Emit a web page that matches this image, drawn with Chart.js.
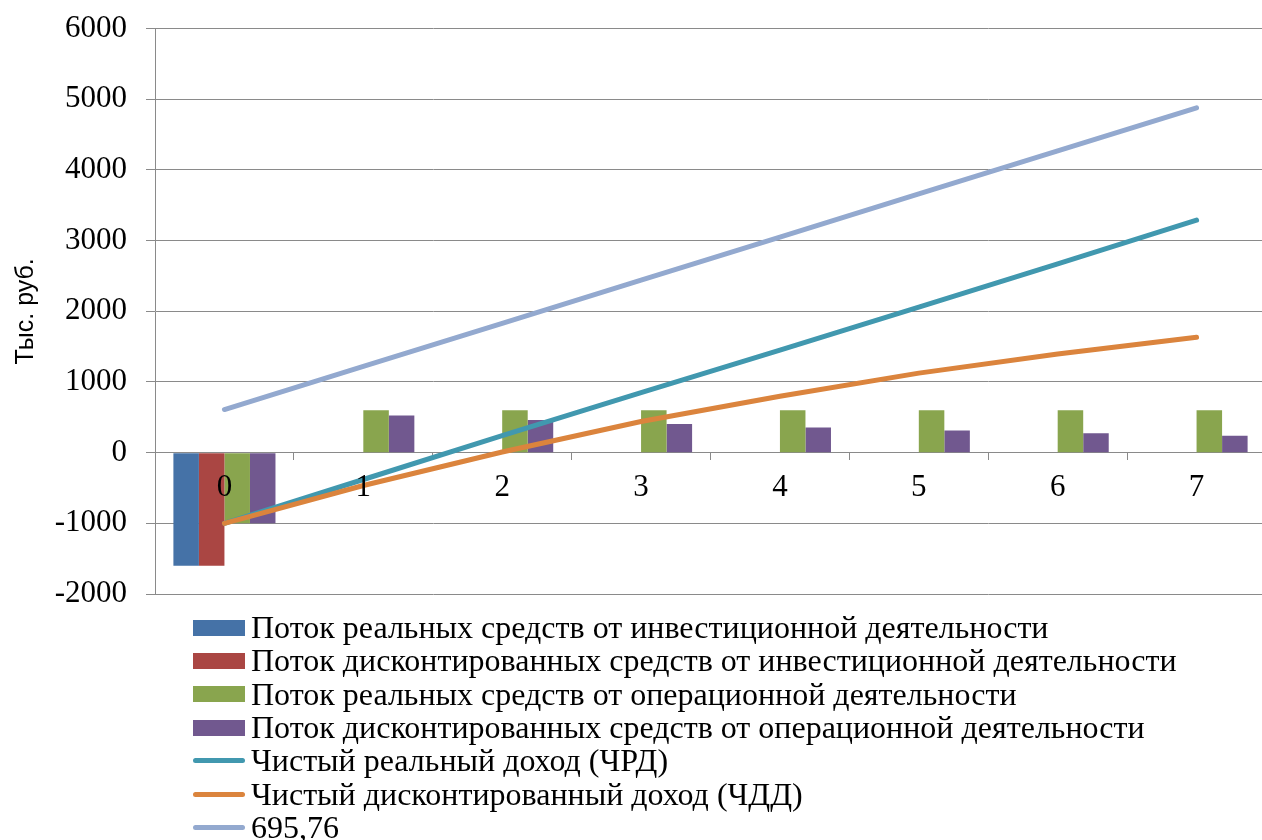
<!DOCTYPE html>
<html lang="ru">
<head>
<meta charset="utf-8">
<title>Денежные потоки проекта</title>
<script src="https://cdn.jsdelivr.net/npm/chart.js@4.4.1/dist/chart.umd.min.js"></script>
<style>
  html, body { margin: 0; padding: 0; background: #fff; }
  #wrap { position: relative; width: 1262px; height: 840px; overflow: hidden; }
  #chart { position: absolute; left: 0; top: 0; }
  #legend {
    position: absolute; left: 193px; top: 611px; margin: 0; padding: 0;
    font-family: 'Liberation Serif', 'Times New Roman', serif; font-size: 32px; color: #000;
  }
  .item { display: flex; align-items: center; height: 33.3px; white-space: nowrap; }
  .mark { width: 52px; flex: none; margin-right: 6px; }
  .mark.bar { height: 16px; }
  .mark.line { height: 5px; border-radius: 3px; }
</style>
</head>
<body>
<div id="wrap">
  <canvas id="chart" width="1266" height="840"></canvas>
  <div id="legend"></div>
</div>
<script>
// Periods (years)
const years = ['0', '1', '2', '3', '4', '5', '6', '7'];

// Cash flows, thousand roubles
const investReal = [-1600, 0, 0, 0, 0, 0, 0, 0];
const investDisc = [-1600, 0, 0, 0, 0, 0, 0, 0];
const operReal   = [-1000, 600, 600, 600, 600, 600, 600, 600];
const operDisc   = [-1000, 526, 462, 405, 355, 312, 273, 240];

// Cumulative income lines
const netReal  = [-1000, -380, 240, 850, 1450, 2060, 2670, 3290];
const netDisc  = [-1000, -465, 10, 440, 798, 1125, 1395, 1632];
const line695  = [610, 1220, 1830, 2440, 3050, 3660, 4270, 4880];

// Value axis
const yMin = -2000;
const yMax = 6000;
const yStep = 1000;

const gridColor = '#8a8a8a';
const serif = "'Liberation Serif', 'Times New Roman', serif";

function barSet(label, data, color) {
  return { type: 'bar', label, data, backgroundColor: color, borderWidth: 0,
           barPercentage: 1, categoryPercentage: 0.735, order: 3 };
}
function lineSet(label, data, color, order) {
  return { type: 'line', label, data, borderColor: color, backgroundColor: color,
           borderWidth: 5, pointRadius: 0, pointHoverRadius: 0, fill: false, tension: 0,
           borderCapStyle: 'round', borderJoinStyle: 'round', order };
}

// Builds the legend as a single column of HTML rows under the chart
const htmlLegend = {
  id: 'htmlLegend',
  afterUpdate(chart) {
    const box = document.getElementById('legend');
    box.innerHTML = '';
    chart.data.datasets.forEach(ds => {
      const row = document.createElement('div');
      row.className = 'item';
      const mark = document.createElement('span');
      mark.className = 'mark ' + (ds.type === 'line' ? 'line' : 'bar');
      mark.style.background = ds.type === 'line' ? ds.borderColor : ds.backgroundColor;
      const text = document.createElement('span');
      text.textContent = ds.label;
      row.appendChild(mark);
      row.appendChild(text);
      box.appendChild(row);
    });
  }
};

new Chart(document.getElementById('chart'), {
  type: 'bar',
  data: {
    labels: years,
    datasets: [
      barSet('Поток реальных средств от инвестиционной деятельности', investReal, '#4572A7'),
      barSet('Поток дисконтированных средств от инвестиционной деятельности', investDisc, '#AA4643'),
      barSet('Поток реальных средств от операционной деятельности', operReal, '#89A54E'),
      barSet('Поток дисконтированных средств от операционной деятельности', operDisc, '#71588F'),
      lineSet('Чистый реальный доход (ЧРД)', netReal, '#4198AF', 2),
      lineSet('Чистый дисконтированный доход (ЧДД)', netDisc, '#DB843D', 1),
      lineSet('695,76', line695, '#93A9CF', 0)
    ]
  },
  options: {
    responsive: false,
    animation: false,
    devicePixelRatio: 1,
    layout: { padding: { top: 25, right: 0, bottom: 246, left: 0 } },
    plugins: {
      legend: { display: false },
      tooltip: { enabled: false }
    },
    scales: {
      x: {
        position: { y: 0 },
        grid: { offset: true, drawOnChartArea: false, drawTicks: true, tickLength: 7,
                color: gridColor, lineWidth: 1 },
        border: { display: true, color: gridColor, width: 1 },
        ticks: { z: 1, font: { family: serif, size: 31 }, color: '#000', padding: 10,
                 autoSkip: false, maxRotation: 0 }
      },
      y: {
        min: yMin,
        max: yMax,
        ticks: { stepSize: yStep, font: { family: serif, size: 31, lineHeight: 0.62 },
                 color: '#000', padding: 19, callback: v => String(v) },
        grid: { color: gridColor, lineWidth: 1, tickLength: 9 },
        border: { display: true, color: gridColor, width: 1 },
        title: { display: true, text: 'Тыс. руб.', color: '#000', padding: 11,
                 font: { family: "'Liberation Sans', Arial, sans-serif", size: 25 } },
        afterFit(scale) { scale.width = 155; }
      }
    }
  },
  plugins: [htmlLegend]
});
</script>
</body>
</html>
